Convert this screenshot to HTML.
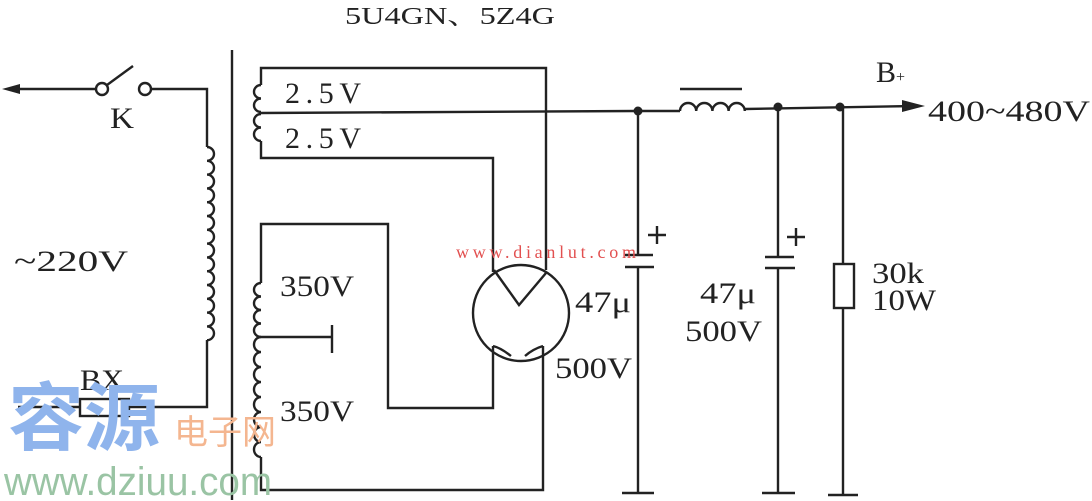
<!DOCTYPE html>
<html><head><meta charset="utf-8"><style>
html,body{margin:0;padding:0;background:#fff;}
svg{display:block;}
text{font-family:"Liberation Serif","Noto Serif CJK SC",serif;fill:#222;}
</style></head><body>
<svg width="1092" height="501" viewBox="0 0 1092 501" xmlns="http://www.w3.org/2000/svg">
<g stroke="#222" stroke-width="2.4" fill="none">
<line x1="14" y1="89" x2="96" y2="89"/>
<polygon points="2,89 20,84 20,94" fill="#222" stroke="none"/>
<circle cx="102" cy="89" r="6"/>
<circle cx="145" cy="89" r="6"/>
<line x1="107" y1="85" x2="133" y2="66"/>
<polyline points="151,89 207,89 207,147"/>
<path d="M207,147 a7,6.9 0 0 1 0,13.8 a7,6.9 0 0 1 0,13.8 a7,6.9 0 0 1 0,13.8 a7,6.9 0 0 1 0,13.8 a7,6.9 0 0 1 0,13.8 a7,6.9 0 0 1 0,13.8 a7,6.9 0 0 1 0,13.8 a7,6.9 0 0 1 0,13.8 a7,6.9 0 0 1 0,13.8 a7,6.9 0 0 1 0,13.8 a7,6.9 0 0 1 0,13.8 a7,6.9 0 0 1 0,13.8 a7,6.9 0 0 1 0,13.8 a7,6.9 0 0 1 0,13.8"/>
<polyline points="207,340 207,407 129,407"/>
<rect x="80" y="399" width="49" height="17"/>
<line x1="80" y1="407" x2="18" y2="407"/>
<line x1="232" y1="50" x2="232" y2="500"/>
<polyline points="546,270 546,68 261,68 261,85"/>
<path d="M261,85 a7,6.75 0 0 0 0,13.5 a7,6.75 0 0 0 0,13.5"/>
<path d="M261,114 a7,6.75 0 0 0 0,13.5 a7,6.75 0 0 0 0,13.5"/>
<polyline points="261,141 261,158 493,158 493,272"/>
<line x1="261" y1="113" x2="638" y2="111"/>
<polyline points="261,283 261,224 388,224 388,408 493,408 493,346"/>
<path d="M261,283 a7,6.75 0 0 0 0,13.5 a7,6.75 0 0 0 0,13.5 a7,6.75 0 0 0 0,13.5 a7,6.75 0 0 0 0,13.5"/>
<path d="M261,337 a7,7.5 0 0 0 0,15 a7,7.5 0 0 0 0,15 a7,7.5 0 0 0 0,15 a7,7.5 0 0 0 0,15 a7,7.5 0 0 0 0,15 a7,7.5 0 0 0 0,15 a7,7.5 0 0 0 0,15 a7,7.5 0 0 0 0,15"/>
<polyline points="261,457 261,490 543,490 543,346"/>
<line x1="261" y1="337" x2="332" y2="337"/>
<line x1="332" y1="325" x2="332" y2="353"/>
<circle cx="521" cy="313" r="48"/>
<polyline points="494,270 519,305 546,273"/>
<path d="M493,346 q8,2 18,10"/>
<path d="M543,346 q-10,3 -18,10"/>
<line x1="638" y1="111" x2="680" y2="111"/>
<path d="M680,111 a8.1,8 0 0 1 16.2,0 a8.1,8 0 0 1 16.2,0 a8.1,8 0 0 1 16.2,0 a8.1,8 0 0 1 16.2,0"/>
<line x1="680" y1="89" x2="742" y2="89"/>
<line x1="745" y1="109" x2="915" y2="106"/>
<line x1="638" y1="111" x2="638" y2="255"/>
<line x1="625" y1="255" x2="653" y2="255"/>
<line x1="625" y1="267" x2="654" y2="267"/>
<line x1="638" y1="267" x2="638" y2="493"/>
<line x1="622" y1="493" x2="654" y2="493"/>
<line x1="657" y1="226" x2="657" y2="244"/><line x1="648" y1="235" x2="666" y2="235"/>
<line x1="778" y1="108" x2="778" y2="257"/>
<line x1="765" y1="257" x2="794" y2="257"/>
<line x1="765" y1="268" x2="795" y2="268"/>
<line x1="778" y1="268" x2="778" y2="493"/>
<line x1="762" y1="493" x2="795" y2="493"/>
<line x1="796" y1="228" x2="796" y2="246"/><line x1="787" y1="237" x2="805" y2="237"/>
<line x1="843" y1="107" x2="843" y2="264"/>
<rect x="834" y="264" width="20" height="44"/>
<line x1="843" y1="308" x2="843" y2="495"/>
<line x1="828" y1="495" x2="858" y2="495"/>
</g>
<g fill="#222">
<circle cx="638" cy="111" r="4.5"/>
<circle cx="778" cy="107" r="4.5"/>
<circle cx="840" cy="107" r="4.5"/>
<polygon points="925,106 902,100 902,112"/>
</g>
<g font-size="30">
<text x="345" y="24" font-size="24" textLength="210" lengthAdjust="spacingAndGlyphs">5U4GN、5Z4G</text>
<text x="110" y="128" textLength="24" lengthAdjust="spacingAndGlyphs">K</text>
<text x="14" y="271" textLength="114" lengthAdjust="spacingAndGlyphs">~220V</text>
<text x="80" y="390" textLength="44" lengthAdjust="spacingAndGlyphs">BX</text>
<text x="285" y="103" textLength="76" lengthAdjust="spacing">2.5V</text>
<text x="285" y="148" textLength="76" lengthAdjust="spacing">2.5V</text>
<text x="280" y="296" textLength="74" lengthAdjust="spacingAndGlyphs">350V</text>
<text x="280" y="421" textLength="74" lengthAdjust="spacingAndGlyphs">350V</text>
<text x="575" y="312" textLength="56" lengthAdjust="spacingAndGlyphs">47μ</text>
<text x="555" y="378" textLength="77" lengthAdjust="spacingAndGlyphs">500V</text>
<text x="700" y="303" textLength="56" lengthAdjust="spacingAndGlyphs">47μ</text>
<text x="685" y="341" textLength="77" lengthAdjust="spacingAndGlyphs">500V</text>
<text x="872" y="283" textLength="52" lengthAdjust="spacingAndGlyphs">30k</text>
<text x="872" y="310" textLength="64" lengthAdjust="spacingAndGlyphs">10W</text>
<text x="876" y="82">B<tspan font-size="16">+</tspan></text>
<text x="928" y="121" textLength="162" lengthAdjust="spacingAndGlyphs">400~480V</text>
</g>
<text x="456" y="258" font-size="18" textLength="180" style="fill:#e25050">www.dianlut.com</text>
<text x="8" y="444" font-size="74" font-weight="bold" textLength="152" lengthAdjust="spacingAndGlyphs" style="font-family:'Noto Sans CJK SC',sans-serif;fill:#8fb4ec">容源</text>
<text x="174" y="444" font-size="34" style="font-family:'Noto Sans CJK SC',sans-serif;fill:#f4b690">电子网</text>
<text x="4" y="495" font-size="40" textLength="268" lengthAdjust="spacingAndGlyphs" style="font-family:'Liberation Sans',sans-serif;fill:#9ac4a4">www.dziuu.com</text>
</svg>
</body></html>
